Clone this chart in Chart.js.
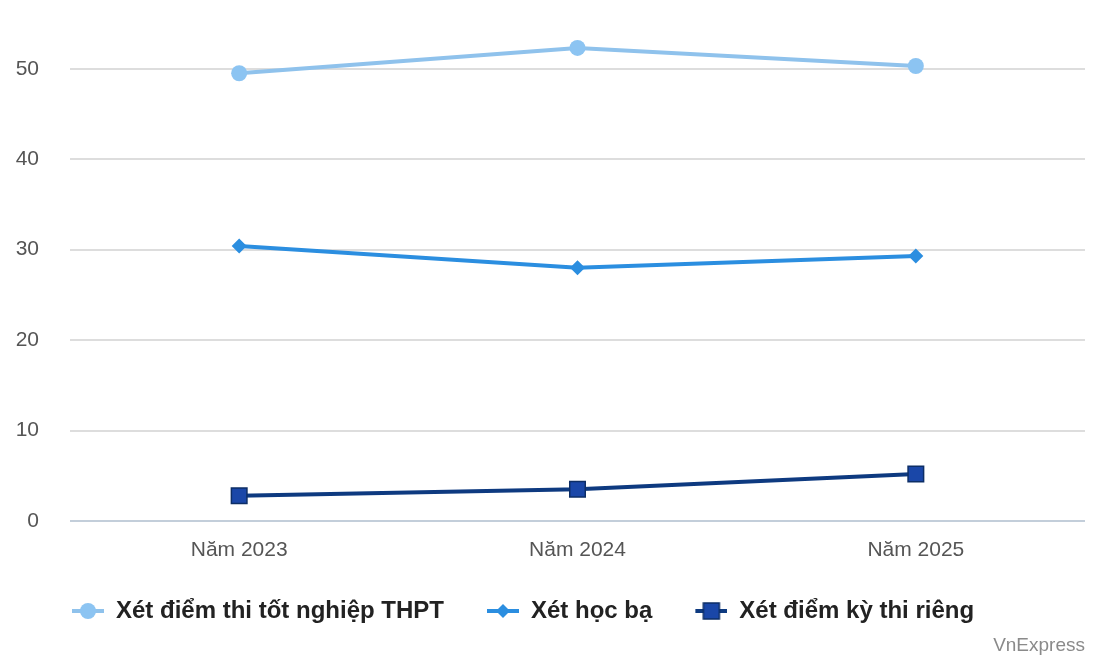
<!DOCTYPE html>
<html>
<head>
<meta charset="utf-8">
<script src="https://cdn.jsdelivr.net/npm/chart.js@4"></script>
<style>
  html, body { margin: 0; padding: 0; background: #fff; }
  #wrap { position: relative; width: 1106px; height: 663px; }
  #source { position: absolute; right: 21px; top: 634px; font: 19px "Liberation Sans", Arial, sans-serif; color: #8a8a8a; }
</style>
</head>
<body>
<div id="wrap">
  <canvas id="chart" width="1106" height="663"></canvas>
  <div id="source">VnExpress</div>
</div>
<script>
const years = ["Năm 2023", "Năm 2024", "Năm 2025"];
const seriesNames = ["Xét điểm thi tốt nghiệp THPT", "Xét học bạ", "Xét điểm kỳ thi riêng"];
const thptScores = [49.5, 52.3, 50.3];
const hocBa = [30.4, 28.0, 29.3];
const kyThiRieng = [2.8, 3.5, 5.2];

const lineColors = ["#8fc2ec", "#2b8ee0", "#0e3a80"];
const pointFills = ["#8cc4f2", "#2b8ee0", "#1a47a8"];

// legend marker: empty gap on the left, then a short line with the series marker
function legendIcon(i) {
    const c = document.createElement("canvas");
    c.width = 65; c.height = 20;
    const g = c.getContext("2d");
    g.strokeStyle = lineColors[i];
    g.lineWidth = 4;
    g.beginPath(); g.moveTo(33, 10); g.lineTo(65, 10); g.stroke();
    g.fillStyle = pointFills[i];
    const cx = 49, cy = 10;
    if (i === 0) {
        g.beginPath(); g.arc(cx, cy, 8, 0, Math.PI * 2); g.fill();
    } else if (i === 1) {
        g.beginPath(); g.moveTo(cx, cy - 7); g.lineTo(cx + 7, cy); g.lineTo(cx, cy + 7); g.lineTo(cx - 7, cy); g.closePath(); g.fill();
    } else {
        g.fillRect(cx - 8, cy - 8, 16, 16);
        g.strokeStyle = "#0d2e66"; g.lineWidth = 1.5;
        g.strokeRect(cx - 8, cy - 8, 16, 16);
    }
    return c;
}
const icons = [0, 1, 2].map(legendIcon);

// legend starts a bit right of the canvas edge, like the original
const legendShift = {
    id: "legendShift",
    afterLayout(chart) { chart.legend.left = 29; }
};

new Chart(document.getElementById("chart"), {
    type: "line",
    data: {
        labels: years,
        datasets: [
            { label: seriesNames[0], data: thptScores, borderColor: lineColors[0], backgroundColor: pointFills[0],
              borderWidth: 4, pointStyle: "circle", pointRadius: 8, pointBorderWidth: 0 },
            { label: seriesNames[1], data: hocBa, borderColor: lineColors[1], backgroundColor: pointFills[1],
              borderWidth: 4, pointStyle: "rectRot", pointRadius: 7.5, pointBorderWidth: 0 },
            { label: seriesNames[2], data: kyThiRieng, borderColor: lineColors[2], backgroundColor: pointFills[2],
              borderWidth: 4, pointStyle: "rect", pointRadius: 11, pointBorderWidth: 1.5, pointBorderColor: "#0d2e66" }
        ]
    },
    options: {
        responsive: false,
        animation: false,
        layout: { autoPadding: false, padding: { left: 0, right: 21, top: 0, bottom: 30 } },
        plugins: {
            tooltip: { enabled: false },
            legend: {
                position: "bottom",
                align: "start",
                labels: {
                    usePointStyle: true,
                    pointStyleWidth: 65,
                    padding: 10,
                    color: "#222",
                    font: { family: "'Liberation Sans', Arial, sans-serif", size: 24, weight: "bold" },
                    generateLabels: chart => chart.data.datasets.map((ds, i) => ({
                        text: ds.label,
                        pointStyle: icons[i],
                        fontColor: "#222",
                        lineWidth: 0,
                        datasetIndex: i,
                        hidden: false
                    }))
                }
            }
        },
        scales: {
            x: {
                offset: true,
                grid: { display: false, drawTicks: false },
                border: { display: false },
                ticks: { color: "#555", padding: 17, font: { family: "'Liberation Sans', Arial, sans-serif", size: 21 } },
                afterFit: s => { s.height = 68; }
            },
            y: {
                min: 0,
                max: 57.6,
                grid: {
                    drawTicks: false,
                    lineWidth: 2,
                    color: ctx => ctx.tick && ctx.tick.value === 0 ? "#c3ceda" : "#dddddd"
                },
                border: { display: false },
                ticks: { stepSize: 10, includeBounds: false, color: "#555", padding: 31,
                         font: { family: "'Liberation Sans', Arial, sans-serif", size: 21 } },
                afterFit: s => { s.width = 70; s.paddingTop = 0; s.paddingBottom = 0; }
            }
        }
    },
    plugins: [legendShift]
});
</script>
</body>
</html>
